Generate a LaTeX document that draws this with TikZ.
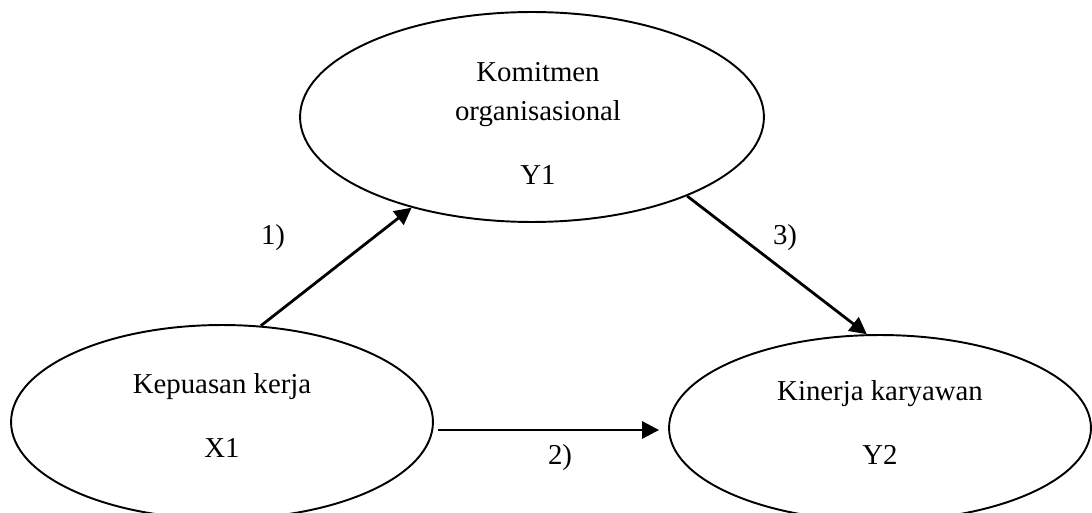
\documentclass[tikz,border=0pt]{standalone}
\usepackage{fontspec}
\setmainfont{Liberation Serif}
\usetikzlibrary{arrows.meta,shapes.geometric}
\tikzset{
  varnode/.style={ellipse, draw, line width=1.1pt, inner sep=0pt},
  vartext/.style={align=center, font=\fontsize{16.4}{22.4}\selectfont},
  arr/.style={-{Triangle[length=3.4mm,width=3.4mm]}, line width=1.6pt},
  lbl/.style={font=\fontsize{16.4}{19}\selectfont}
}
\begin{document}
\begin{tikzpicture}[x=.02cm,y=-.02cm]
\useasboundingbox (0,0) rectangle (1092,513);
\clip (0,0) rectangle (1092,513);
% variabel
\node[varnode, minimum width=9.28cm, minimum height=4.2cm] (komitmen) at (532,117) {};
\node[varnode, minimum width=8.44cm, minimum height=3.88cm] (kepuasan) at (222,422) {};
\node[varnode, minimum width=8.44cm, minimum height=3.72cm] (kinerja) at (880,428) {};
\node[vartext] (komitmentxt) at (538,123.5) {Komitmen\\organisasional\\[14pt]Y1};
\node[vartext] (kepuasantxt) at (222,415.5) {Kepuasan kerja\\[14pt]X1};
\node[vartext] (kinerjatxt) at (880,422.5) {Kinerja karyawan\\[14pt]Y2};
% hubungan
\draw[arr] (kepuasan.68.6) -- (komitmen.217);
\draw[arr] ([shift={(4,8)}]kepuasan.east) -- ([shift={(-9,2)}]kinerja.west);
\draw[arr] (komitmen.333) -- (kinerja.98);
\node[lbl] (h1) at (273,238) {1)};
\node[lbl] (h2) at (560,458) {2)};
\node[lbl] (h3) at (785,238) {3)};
\end{tikzpicture}
\end{document}
